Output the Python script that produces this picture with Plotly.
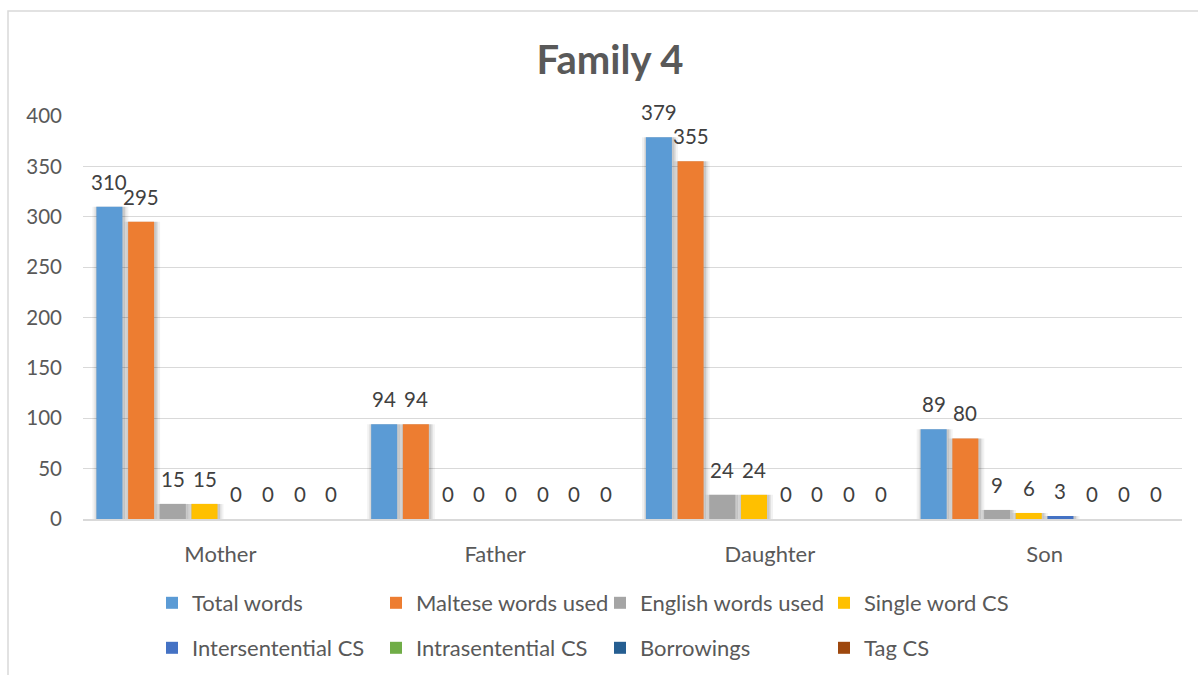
import plotly.graph_objects as go

# ---- data ---------------------------------------------------------------
categories = ["Mother", "Father", "Daughter", "Son"]
series_names = [
    "Total words", "Maltese words used", "English words used", "Single word CS",
    "Intersentential CS", "Intrasentential CS", "Borrowings", "Tag CS",
]
total_words = [310, 94, 379, 89]
maltese_words = [295, 94, 355, 80]
english_words = [15, 0, 24, 9]
single_word_cs = [15, 0, 24, 6]
intersentential_cs = [0, 0, 0, 3]
intrasentential_cs = [0, 0, 0, 0]
borrowings = [0, 0, 0, 0]
tag_cs = [0, 0, 0, 0]
y_ticks = [0, 50, 100, 150, 200, 250, 300, 350, 400]

series_values = [total_words, maltese_words, english_words, single_word_cs,
                 intersentential_cs, intrasentential_cs, borrowings, tag_cs]
colors = ["#5B9BD5", "#ED7D31", "#A5A5A5", "#FFC000",
          "#4472C4", "#70AD47", "#255E91", "#9E480E"]

# ---- layout geometry ----------------------------------------------------
W, H = 1198, 675
margin = dict(l=83, r=16, t=116, b=156)
plot_w = W - margin["l"] - margin["r"]
plot_h = H - margin["t"] - margin["b"]
cat_px = plot_w / len(categories)          # pixels per category

n = len(series_names)
group_gap = 0.077                           # share of a category left empty
slot = (1 - group_gap) / n
bar_w = slot * 0.82
offsets = [-(1 - group_gap) / 2 + i * slot + (slot - bar_w) / 2 for i in range(n)]

FONT = "Lato, 'Open Sans', sans-serif"
TEXT_GREY = "#595959"
LABEL_GREY = "#404040"
GRID = "#D9D9D9"

fig = go.Figure()

# soft drop shadow behind each bar
for i, vals in enumerate(series_values):
    for spread, alpha in ((5, 0.05), (3, 0.07), (1.5, 0.10)):
        fig.add_trace(go.Bar(
            x=categories, y=vals,
            offset=offsets[i] - spread / cat_px + 1 / cat_px,
            width=bar_w + 2 * spread / cat_px,
            marker=dict(color=f"rgba(0,0,0,{alpha})", line=dict(width=0)),
            showlegend=False, hoverinfo="skip",
        ))

# the bars themselves
for i, (name, vals) in enumerate(zip(series_names, series_values)):
    fig.add_trace(go.Bar(
        x=categories, y=vals, name=name,
        offset=offsets[i], width=bar_w,
        marker=dict(color=colors[i], line=dict(width=0)),
        legend="legend" if i < 4 else "legend2",
    ))

# value labels above each bar
annotations = []
for i, vals in enumerate(series_values):
    for ci, v in enumerate(vals):
        annotations.append(dict(
            x=ci + offsets[i] + bar_w / 2, y=v, xref="x", yref="y",
            text=str(v), showarrow=False, yanchor="middle", yshift=25,
            font=dict(family=FONT, size=20.5, color=LABEL_GREY),
        ))

# outer chart frame
frame = dict(
    type="rect", xref="paper", yref="paper", layer="below",
    x0=(8 - margin["l"]) / plot_w, x1=(W + 10 - margin["l"]) / plot_w,
    y0=-(margin["b"] + 20) / plot_h, y1=1 + (margin["t"] - 11) / plot_h,
    line=dict(color=GRID, width=1.5), fillcolor="rgba(0,0,0,0)",
)

legend_common = dict(
    orientation="h", xref="container", yref="container",
    xanchor="left", yanchor="middle",
    entrywidth=179, entrywidthmode="pixels",
    font=dict(family=FONT, size=22, color=TEXT_GREY),
    bgcolor="rgba(0,0,0,0)", borderwidth=0,
)

fig.update_layout(
    width=W, height=H,
    margin=margin,
    barmode="overlay",
    paper_bgcolor="white", plot_bgcolor="white",
    font=dict(family=FONT, color=TEXT_GREY),
    title=dict(
        text="<b>Family 4</b>", xref="container", yref="container",
        x=610 / W, y=1 - 60 / H, xanchor="center", yanchor="middle",
        font=dict(family=FONT, size=40, color=TEXT_GREY),
    ),
    xaxis=dict(
        type="category", categoryorder="array", categoryarray=categories,
        range=[-0.5, len(categories) - 0.5],
        showgrid=False, showline=True, linecolor=GRID, linewidth=1.5,
        ticks="", ticklabelstandoff=15,
        tickfont=dict(family=FONT, size=22, color=TEXT_GREY),
    ),
    yaxis=dict(
        range=[0, 400], tickvals=y_ticks, ticktext=[str(t) for t in y_ticks],
        showgrid=True, gridcolor=GRID, gridwidth=1.3,
        zeroline=False, showline=False, ticks="", ticklabelstandoff=20,
        tickfont=dict(family=FONT, size=20.5, color=TEXT_GREY),
    ),
    legend=dict(legend_common, x=152 / W, y=1 - 603 / H),
    legend2=dict(legend_common, x=152 / W, y=1 - 648 / H),
    annotations=annotations,
    shapes=[frame],
)

fig.write_html("out.html")
